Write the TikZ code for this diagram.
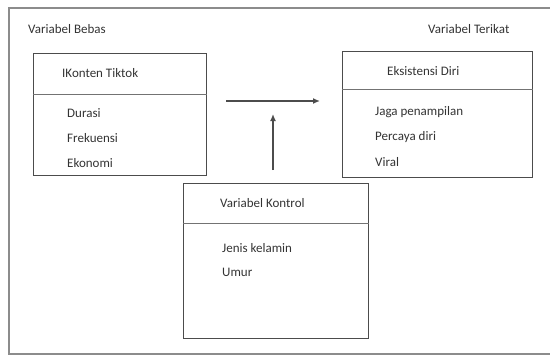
\documentclass[tikz,border=0pt]{standalone}
\usepackage{fontspec}
\setmainfont{Carlito}
\usetikzlibrary{arrows.meta}

\begin{document}
\begin{tikzpicture}[x=1pt,y=-1pt,
  frame/.style={draw=black!45,line width=1.4pt},
  box/.style={draw=black!70,line width=1pt,anchor=north west,inner sep=0pt},
  rule/.style={draw=black!55,line width=0.9pt},
  txt/.style={anchor=west,inner sep=0pt,text=black!80,font=\fontsize{13}{15.6}\selectfont},
  link/.style={draw=black!70,line width=1.4pt,-{Latex[length=7pt,width=6pt]}}]
  \useasboundingbox (0,0) rectangle (550,356);
  \draw[frame] (9,8) rectangle (553,354);
  \node[txt] (bebas) at (28,29) {Variabel Bebas};
  \node[txt] (terikat) at (428,29) {Variabel Terikat};
  \node[box,minimum width=173pt,minimum height=122pt] (konten) at (33,53) {};
  \draw[rule] ([yshift=-41pt]konten.north west) -- ([yshift=-41pt]konten.north east);
  \node[txt] (kontenT) at (62,73) {IKonten Tiktok};
  \node[txt] (durasi) at (67,113) {Durasi};
  \node[txt] (frekuensi) at (67,138) {Frekuensi};
  \node[txt] (ekonomi) at (67,163) {Ekonomi};
  \node[box,minimum width=190pt,minimum height=126pt] (eksistensi) at (342,51) {};
  \draw[rule] ([yshift=-38pt]eksistensi.north west) -- ([yshift=-38pt]eksistensi.north east);
  \node[txt] (eksistensiT) at (387,71) {Eksistensi Diri};
  \node[txt] (jaga) at (375,112) {Jaga penampilan};
  \node[txt] (percaya) at (375,137) {Percaya diri};
  \node[txt] (viral) at (375,162) {Viral};
  \node[box,minimum width=185pt,minimum height=155pt] (kontrol) at (183,183) {};
  \draw[rule] ([yshift=-40pt]kontrol.north west) -- ([yshift=-40pt]kontrol.north east);
  \node[txt] (kontrolT) at (220,203) {Variabel Kontrol};
  \node[txt] (jenis) at (222,248) {Jenis kelamin};
  \node[txt] (umur) at (222,272) {Umur};
  \coordinate (h1) at (226,101);
  \coordinate (h2) at (320,101);
  \coordinate (v1) at (273,170);
  \coordinate (v2) at (273,114);
  \draw[link] (h1) -- (h2);
  \draw[link] (v1) -- (v2);
\end{tikzpicture}
\end{document}
